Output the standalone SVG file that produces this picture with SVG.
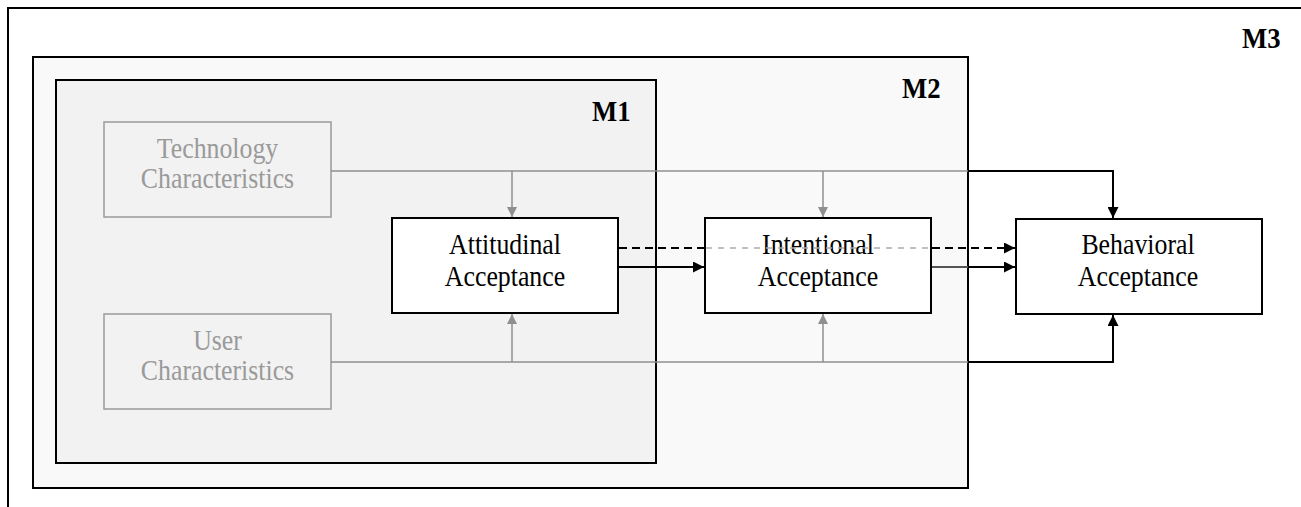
<svg xmlns="http://www.w3.org/2000/svg" width="1301" height="507" viewBox="0 0 1301 507">
<style>
.frame{fill:none;stroke:#000;stroke-width:2}
.box{fill:#fff;stroke:#000;stroke-width:2}
.gbox{fill:none;stroke:#9a9a9a;stroke-width:1.5}
.t{font-family:"Liberation Serif","Times New Roman",serif;font-size:29px;fill:#000}
.tg{font-family:"Liberation Serif","Times New Roman",serif;font-size:29px;fill:#9a9a9a}
.m{font-family:"Liberation Serif","Times New Roman",serif;font-size:30px;font-weight:bold;fill:#000}
.blk{fill:none;stroke:#000;stroke-width:2}
.gry{fill:none;stroke:#8f8f8f;stroke-width:1.5}
.dash{fill:none;stroke:#000;stroke-width:2;stroke-dasharray:8 5}
.gdash{fill:none;stroke:#aaa;stroke-width:1.5;stroke-dasharray:6 6}
</style>
<defs>
<marker id="ab" markerUnits="userSpaceOnUse" markerWidth="11" markerHeight="11" refX="11" refY="5.5" orient="auto">
<path d="M0,0 L11,5.5 L0,11 z" fill="#000"/>
</marker>
<marker id="ag" markerUnits="userSpaceOnUse" markerWidth="10" markerHeight="10" refX="10" refY="5" orient="auto">
<path d="M0,0 L10,5 L0,10 z" fill="#8f8f8f"/>
</marker>
</defs>
<g id="M3">
<path class="frame" d="M8,507 L8,8 L1301,8"/>
<text class="m" transform="translate(1242,48) scale(0.89,1)">M3</text>
</g>
<g id="M2">
<rect x="33" y="57" width="935" height="431" fill="#f9f9f9" stroke="#000" stroke-width="2"/>
<text class="m" transform="translate(902,98) scale(0.89,1)">M2</text>
</g>
<g id="M1">
<rect x="56" y="80" width="600" height="383" fill="#f2f2f2" stroke="#000" stroke-width="2"/>
<text class="m" transform="translate(592,121) scale(0.89,1)">M1</text>
</g>
<g id="tech">
<rect class="gbox" x="104" y="122" width="227" height="95"/>
<text class="tg" text-anchor="middle" transform="translate(217.5,158) scale(0.89,1)">Technology</text>
<text class="tg" text-anchor="middle" transform="translate(217.5,188) scale(0.89,1)">Characteristics</text>
</g>
<g id="user">
<rect class="gbox" x="104" y="314" width="227" height="95"/>
<text class="tg" text-anchor="middle" transform="translate(217.5,350) scale(0.89,1)">User</text>
<text class="tg" text-anchor="middle" transform="translate(217.5,380) scale(0.89,1)">Characteristics</text>
</g>
<g id="attitudinal">
<rect class="box" x="392" y="218" width="226" height="95"/>
<text class="t" text-anchor="middle" transform="translate(505,254) scale(0.89,1)">Attitudinal</text>
<text class="t" text-anchor="middle" transform="translate(505,286) scale(0.89,1)">Acceptance</text>
</g>
<g id="intentional">
<rect class="box" x="705" y="218" width="226" height="95"/>
<text class="t" text-anchor="middle" transform="translate(818,254) scale(0.89,1)">Intentional</text>
<text class="t" text-anchor="middle" transform="translate(818,286) scale(0.89,1)">Acceptance</text>
</g>
<g id="behavioral">
<rect class="box" x="1016" y="219" width="246" height="95"/>
<text class="t" text-anchor="middle" transform="translate(1138,254) scale(0.89,1)">Behavioral</text>
<text class="t" text-anchor="middle" transform="translate(1138,286) scale(0.89,1)">Acceptance</text>
</g>
<g id="connectors">
<path class="gry" d="M331,171 L968,171"/>
<path class="blk" d="M968,171 L1113,171 L1113,218" marker-end="url(#ab)"/>
<path class="gry" d="M512,171 L512,217" marker-end="url(#ag)"/>
<path class="gry" d="M823,171 L823,217" marker-end="url(#ag)"/>
<path class="gry" d="M331,362 L968,362"/>
<path class="blk" d="M968,362 L1113,362 L1113,315" marker-end="url(#ab)"/>
<path class="gry" d="M512,362 L512,314" marker-end="url(#ag)"/>
<path class="gry" d="M823,362 L823,314" marker-end="url(#ag)"/>
<path class="dash" d="M619,248 L705,248"/>
<path class="gdash" d="M706,248 L930,248"/>
<path class="dash" d="M932,248 L1015,248" marker-end="url(#ab)"/>
<path class="blk" d="M619,267 L704,267" marker-end="url(#ab)"/>
<path fill="none" stroke="#555" stroke-width="2" d="M932,267 L968,267"/>
<path class="blk" d="M968,267 L1015,267" marker-end="url(#ab)"/>
</g>
</svg>
